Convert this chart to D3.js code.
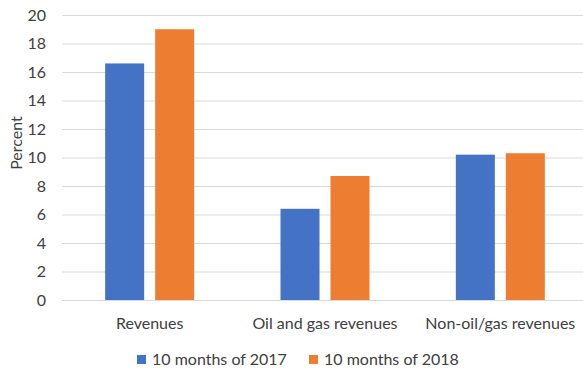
<!DOCTYPE html>
<html><head><meta charset="utf-8">
<script src="https://cdn.jsdelivr.net/npm/d3@7"></script>
<style>body{margin:0;background:#fff;} svg{display:block;} text{font-family:Lato,"Open Sans",sans-serif;fill:#404040;}</style>
</head><body><svg id="c" width="583" height="373"></svg>
<script>
const categories = ["Revenues", "Oil and gas revenues", "Non-oil/gas revenues"];
const seriesNames = ["10 months of 2017", "10 months of 2018"];
const values2017 = [16.6, 6.4, 10.2];
const values2018 = [19.0, 8.7, 10.3];
const yTicks = [0, 2, 4, 6, 8, 10, 12, 14, 16, 18, 20];
const colors = ["#4472C4", "#ED7D31"];

const svg = d3.select("#c");
const x = d3.scaleBand().domain(categories).range([62, 588]);
const y = d3.scaleLinear().domain([0, 20]).range([300, 15]);
const bw = 39, gap = 11;

svg.append("g").selectAll("line").data(yTicks).join("line")
  .attr("x1", 62).attr("x2", 588)
  .attr("y1", d => y(d) + 0.5).attr("y2", d => y(d) + 0.5)
  .attr("stroke", "#d9d9d9").attr("stroke-width", 1);

svg.append("g").selectAll("text").data(yTicks).join("text")
  .attr("x", 46).attr("y", d => y(d)).attr("dy", "0.35em")
  .attr("text-anchor", "end").attr("font-size", 16).text(d => d);

const series = [values2017, values2018];
series.forEach((vals, si) => {
  svg.append("g").selectAll("rect").data(categories).join("rect")
    .attr("x", (c) => x(c) + x.bandwidth() / 2 - bw - gap / 2 + si * (bw + gap))
    .attr("width", bw)
    .attr("y", (c, i) => y(vals[i]))
    .attr("height", (c, i) => y(0) - y(vals[i]))
    .attr("fill", colors[si]);
});

svg.append("g").selectAll("text").data(categories).join("text")
  .attr("x", c => x(c) + x.bandwidth() / 2).attr("y", 329)
  .attr("text-anchor", "middle").attr("font-size", 16).text(c => c);

svg.append("text").attr("transform", "translate(22,143) rotate(-90)")
  .attr("text-anchor", "middle").attr("font-size", 16).text("Percent");

const legX = [137, 309];
seriesNames.forEach((n, i) => {
  svg.append("rect").attr("x", legX[i]).attr("y", 355).attr("width", 9).attr("height", 9).attr("fill", colors[i]);
  svg.append("text").attr("x", legX[i] + 15).attr("y", 365).attr("font-size", 16).text(n);
});
</script></body></html>
